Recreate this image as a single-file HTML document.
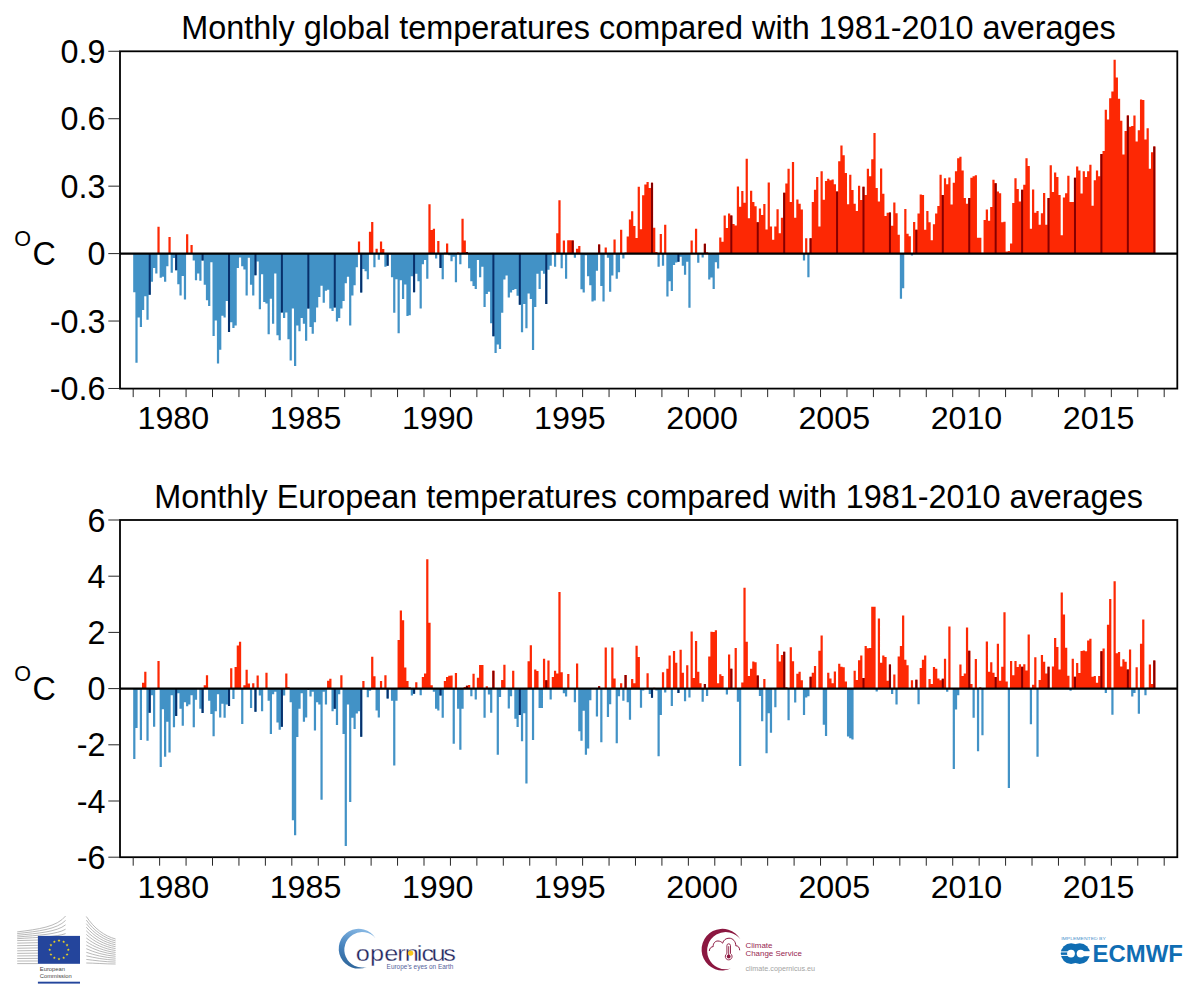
<!DOCTYPE html>
<html lang="en"><head><meta charset="utf-8"><title>Monthly temperature anomalies</title>
<style>
html,body{margin:0;padding:0;background:#fff}
svg{display:block}
text{font-family:'Liberation Sans', Arial, sans-serif}
</style></head>
<body>
<svg width="1200" height="987" viewBox="0 0 1200 987">
<rect width="1200" height="987" fill="#fff"/>
<text x="648.6" y="39.2" text-anchor="middle" font-size="32.4">Monthly global temperatures compared with 1981-2010 averages</text>
<path fill="#4292c6" d="M133.19 253.60h2.22v38.67h-2.22zM135.39 253.60h2.22v109.25h-2.22zM137.60 253.60h2.22v63.84h-2.22zM139.80 253.60h2.22v73.51h-2.22zM142.00 253.60h2.22v56.42h-2.22zM144.21 253.60h2.22v42.71h-2.22zM146.41 253.60h2.22v66.09h-2.22zM148.61 253.60h2.22v41.14h-2.22zM150.82 253.60h2.22v28.10h-2.22zM153.02 253.60h2.22v14.39h-2.22zM155.22 253.60h2.22v20.01h-2.22zM159.63 253.60h2.22v24.05h-2.22zM161.83 253.60h2.22v23.15h-2.22zM164.03 253.60h2.22v28.10h-2.22zM166.24 253.60h2.22v12.59h-2.22zM170.64 253.60h2.22v19.11h-2.22zM172.85 253.60h2.22v4.50h-2.22zM175.05 253.60h2.22v16.64h-2.22zM177.25 253.60h2.22v30.57h-2.22zM179.45 253.60h2.22v41.81h-2.22zM181.66 253.60h2.22v22.48h-2.22zM183.86 253.60h2.22v45.86h-2.22zM192.67 253.60h2.22v6.97h-2.22zM194.88 253.60h2.22v26.53h-2.22zM197.08 253.60h2.22v20.01h-2.22zM199.28 253.60h2.22v27.20h-2.22zM201.48 253.60h2.22v6.97h-2.22zM203.69 253.60h2.22v31.25h-2.22zM205.89 253.60h2.22v46.76h-2.22zM208.09 253.60h2.22v52.38h-2.22zM210.30 253.60h2.22v8.54h-2.22zM212.50 253.60h2.22v82.50h-2.22zM214.70 253.60h2.22v66.99h-2.22zM216.91 253.60h2.22v109.93h-2.22zM219.11 253.60h2.22v96.21h-2.22zM221.31 253.60h2.22v62.04h-2.22zM223.51 253.60h2.22v63.84h-2.22zM225.72 253.60h2.22v47.43h-2.22zM227.92 253.60h2.22v78.46h-2.22zM230.12 253.60h2.22v68.56h-2.22zM232.33 253.60h2.22v74.41h-2.22zM234.53 253.60h2.22v71.94h-2.22zM236.73 253.60h2.22v14.39h-2.22zM238.94 253.60h2.22v3.82h-2.22zM241.14 253.60h2.22v12.59h-2.22zM243.34 253.60h2.22v15.96h-2.22zM245.54 253.60h2.22v41.81h-2.22zM247.75 253.60h2.22v4.05h-2.22zM249.95 253.60h2.22v31.25h-2.22zM252.15 253.60h2.22v41.81h-2.22zM254.36 253.60h2.22v21.58h-2.22zM256.56 253.60h2.22v7.87h-2.22zM258.76 253.60h2.22v55.75h-2.22zM260.97 253.60h2.22v20.68h-2.22zM263.17 253.60h2.22v48.33h-2.22zM265.37 253.60h2.22v49.91h-2.22zM267.57 253.60h2.22v80.70h-2.22zM269.78 253.60h2.22v45.18h-2.22zM271.98 253.60h2.22v70.14h-2.22zM274.18 253.60h2.22v20.01h-2.22zM276.39 253.60h2.22v81.60h-2.22zM278.59 253.60h2.22v86.55h-2.22zM280.79 253.60h2.22v58.90h-2.22zM283.00 253.60h2.22v64.52h-2.22zM285.20 253.60h2.22v58.90h-2.22zM287.40 253.60h2.22v85.65h-2.22zM289.60 253.60h2.22v106.78h-2.22zM291.81 253.60h2.22v54.85h-2.22zM294.01 253.60h2.22v112.40h-2.22zM296.21 253.60h2.22v71.94h-2.22zM298.42 253.60h2.22v77.56h-2.22zM300.62 253.60h2.22v64.52h-2.22zM302.82 253.60h2.22v70.14h-2.22zM305.03 253.60h2.22v87.22h-2.22zM307.23 253.60h2.22v54.85h-2.22zM309.43 253.60h2.22v73.51h-2.22zM311.63 253.60h2.22v80.03h-2.22zM313.84 253.60h2.22v68.56h-2.22zM316.04 253.60h2.22v53.95h-2.22zM318.24 253.60h2.22v43.39h-2.22zM320.45 253.60h2.22v32.15h-2.22zM322.65 253.60h2.22v49.23h-2.22zM324.85 253.60h2.22v37.09h-2.22zM327.06 253.60h2.22v36.19h-2.22zM329.26 253.60h2.22v54.85h-2.22zM331.46 253.60h2.22v57.32h-2.22zM333.66 253.60h2.22v53.95h-2.22zM335.87 253.60h2.22v67.89h-2.22zM338.07 253.60h2.22v64.52h-2.22zM340.27 253.60h2.22v54.85h-2.22zM342.48 253.60h2.22v47.43h-2.22zM344.68 253.60h2.22v29.67h-2.22zM346.88 253.60h2.22v23.15h-2.22zM349.09 253.60h2.22v71.94h-2.22zM351.29 253.60h2.22v41.81h-2.22zM353.49 253.60h2.22v31.70h-2.22zM355.69 253.60h2.22v13.71h-2.22zM360.10 253.60h2.22v38.89h-2.22zM362.30 253.60h2.22v15.51h-2.22zM364.51 253.60h2.22v17.76h-2.22zM366.71 253.60h2.22v25.63h-2.22zM373.32 253.60h2.22v13.71h-2.22zM377.72 253.60h2.22v6.07h-2.22zM384.33 253.60h2.22v13.04h-2.22zM386.54 253.60h2.22v12.14h-2.22zM388.74 253.60h2.22v0.90h-2.22zM390.94 253.60h2.22v23.60h-2.22zM393.15 253.60h2.22v59.12h-2.22zM395.35 253.60h2.22v25.63h-2.22zM397.55 253.60h2.22v79.58h-2.22zM399.75 253.60h2.22v26.75h-2.22zM401.96 253.60h2.22v45.41h-2.22zM404.16 253.60h2.22v30.80h-2.22zM406.36 253.60h2.22v62.49h-2.22zM408.57 253.60h2.22v61.60h-2.22zM410.77 253.60h2.22v22.70h-2.22zM412.97 253.60h2.22v38.67h-2.22zM415.18 253.60h2.22v20.23h-2.22zM417.38 253.60h2.22v27.65h-2.22zM419.58 253.60h2.22v54.85h-2.22zM421.78 253.60h2.22v10.57h-2.22zM423.99 253.60h2.22v6.52h-2.22zM426.19 253.60h2.22v25.18h-2.22zM435.00 253.60h2.22v4.95h-2.22zM439.41 253.60h2.22v14.39h-2.22zM441.61 253.60h2.22v25.63h-2.22zM448.22 253.60h2.22v1.57h-2.22zM450.42 253.60h2.22v7.64h-2.22zM452.63 253.60h2.22v3.15h-2.22zM454.83 253.60h2.22v28.77h-2.22zM459.24 253.60h2.22v10.57h-2.22zM468.05 253.60h2.22v14.61h-2.22zM470.25 253.60h2.22v27.65h-2.22zM472.45 253.60h2.22v32.37h-2.22zM474.66 253.60h2.22v35.29h-2.22zM476.86 253.60h2.22v6.52h-2.22zM479.06 253.60h2.22v23.60h-2.22zM481.27 253.60h2.22v13.04h-2.22zM483.47 253.60h2.22v53.28h-2.22zM485.67 253.60h2.22v40.46h-2.22zM487.87 253.60h2.22v38.22h-2.22zM490.08 253.60h2.22v69.69h-2.22zM492.28 253.60h2.22v82.73h-2.22zM494.48 253.60h2.22v99.36h-2.22zM496.69 253.60h2.22v90.82h-2.22zM498.89 253.60h2.22v95.32h-2.22zM501.09 253.60h2.22v59.12h-2.22zM503.30 253.60h2.22v25.85h-2.22zM505.50 253.60h2.22v21.81h-2.22zM507.70 253.60h2.22v43.84h-2.22zM509.90 253.60h2.22v38.89h-2.22zM512.11 253.60h2.22v36.42h-2.22zM514.31 253.60h2.22v35.29h-2.22zM516.51 253.60h2.22v42.26h-2.22zM518.72 253.60h2.22v51.03h-2.22zM520.92 253.60h2.22v78.68h-2.22zM523.12 253.60h2.22v50.36h-2.22zM525.33 253.60h2.22v74.63h-2.22zM527.53 253.60h2.22v39.79h-2.22zM529.73 253.60h2.22v45.41h-2.22zM531.93 253.60h2.22v96.44h-2.22zM534.14 253.60h2.22v53.50h-2.22zM536.34 253.60h2.22v20.23h-2.22zM538.54 253.60h2.22v35.29h-2.22zM540.75 253.60h2.22v17.08h-2.22zM542.95 253.60h2.22v20.23h-2.22zM545.15 253.60h2.22v50.36h-2.22zM547.36 253.60h2.22v16.19h-2.22zM549.56 253.60h2.22v12.14h-2.22zM553.96 253.60h2.22v13.04h-2.22zM560.57 253.60h2.22v14.61h-2.22zM564.98 253.60h2.22v25.18h-2.22zM573.79 253.60h2.22v4.05h-2.22zM580.40 253.60h2.22v35.74h-2.22zM582.60 253.60h2.22v38.89h-2.22zM584.81 253.60h2.22v1.57h-2.22zM587.01 253.60h2.22v22.70h-2.22zM589.21 253.60h2.22v31.70h-2.22zM591.42 253.60h2.22v47.88h-2.22zM593.62 253.60h2.22v46.98h-2.22zM595.82 253.60h2.22v17.08h-2.22zM600.23 253.60h2.22v32.37h-2.22zM602.43 253.60h2.22v47.88h-2.22zM606.84 253.60h2.22v4.05h-2.22zM609.04 253.60h2.22v38.22h-2.22zM611.24 253.60h2.22v21.81h-2.22zM615.65 253.60h2.22v25.18h-2.22zM617.85 253.60h2.22v18.66h-2.22zM622.26 253.60h2.22v4.95h-2.22zM657.51 253.60h2.22v13.04h-2.22zM661.91 253.60h2.22v12.14h-2.22zM666.32 253.60h2.22v42.94h-2.22zM668.52 253.60h2.22v27.65h-2.22zM670.72 253.60h2.22v37.32h-2.22zM672.93 253.60h2.22v11.46h-2.22zM675.13 253.60h2.22v8.99h-2.22zM677.33 253.60h2.22v8.09h-2.22zM679.54 253.60h2.22v3.15h-2.22zM681.74 253.60h2.22v12.14h-2.22zM683.94 253.60h2.22v21.13h-2.22zM686.14 253.60h2.22v8.09h-2.22zM688.35 253.60h2.22v54.18h-2.22zM697.16 253.60h2.22v9.22h-2.22zM701.57 253.60h2.22v3.82h-2.22zM708.17 253.60h2.22v25.85h-2.22zM710.38 253.60h2.22v23.83h-2.22zM712.58 253.60h2.22v35.29h-2.22zM714.78 253.60h2.22v8.54h-2.22zM716.99 253.60h2.22v14.84h-2.22zM802.90 253.60h2.22v6.97h-2.22zM807.31 253.60h2.22v23.60h-2.22zM899.84 253.60h2.22v45.18h-2.22zM902.04 253.60h2.22v34.62h-2.22zM910.85 253.60h2.22v2.02h-2.22z"/>
<path fill="#fd2804" d="M157.42 226.85h2.22v26.75h-2.22zM168.44 236.96h2.22v16.64h-2.22zM186.06 234.27h2.22v19.33h-2.22zM190.47 245.06h2.22v8.54h-2.22zM357.90 241.46h2.22v12.14h-2.22zM368.91 231.79h2.22v21.81h-2.22zM371.12 221.90h2.22v31.70h-2.22zM375.52 248.65h2.22v4.95h-2.22zM379.93 241.46h2.22v12.14h-2.22zM382.13 249.10h2.22v4.50h-2.22zM428.39 204.14h2.22v49.46h-2.22zM430.60 230.00h2.22v23.60h-2.22zM432.80 228.87h2.22v24.73h-2.22zM437.21 241.01h2.22v12.59h-2.22zM443.81 252.70h2.22v0.90h-2.22zM446.02 243.48h2.22v10.12h-2.22zM457.03 252.48h2.22v1.12h-2.22zM461.44 218.76h2.22v34.84h-2.22zM463.64 240.56h2.22v13.04h-2.22zM465.84 252.03h2.22v1.57h-2.22zM551.76 252.48h2.22v1.12h-2.22zM556.17 233.37h2.22v20.23h-2.22zM558.37 200.32h2.22v53.28h-2.22zM562.78 240.56h2.22v13.04h-2.22zM567.18 240.34h2.22v13.26h-2.22zM569.39 240.34h2.22v13.26h-2.22zM571.59 240.56h2.22v13.04h-2.22zM575.99 248.65h2.22v4.95h-2.22zM578.20 245.96h2.22v7.64h-2.22zM598.02 244.61h2.22v8.99h-2.22zM604.63 247.53h2.22v6.07h-2.22zM613.45 239.44h2.22v14.16h-2.22zM620.05 229.77h2.22v23.83h-2.22zM624.46 252.70h2.22v0.90h-2.22zM626.66 236.52h2.22v17.08h-2.22zM628.87 219.43h2.22v34.17h-2.22zM631.07 211.34h2.22v42.26h-2.22zM633.27 225.95h2.22v27.65h-2.22zM635.48 238.09h2.22v15.51h-2.22zM637.68 186.83h2.22v66.77h-2.22zM639.88 229.32h2.22v24.28h-2.22zM642.08 195.15h2.22v58.45h-2.22zM644.29 184.59h2.22v69.01h-2.22zM646.49 181.89h2.22v71.71h-2.22zM648.69 187.96h2.22v65.64h-2.22zM650.90 182.79h2.22v70.81h-2.22zM653.10 227.75h2.22v25.85h-2.22zM655.30 252.03h2.22v1.57h-2.22zM659.71 234.04h2.22v19.56h-2.22zM664.11 224.83h2.22v28.77h-2.22zM690.55 240.56h2.22v13.04h-2.22zM692.75 253.15h2.22v0.45h-2.22zM694.96 228.87h2.22v24.73h-2.22zM703.77 243.71h2.22v9.89h-2.22zM705.97 252.25h2.22v1.35h-2.22zM719.19 237.41h2.22v16.19h-2.22zM721.39 241.69h2.22v11.91h-2.22zM723.60 215.38h2.22v38.22h-2.22zM725.80 227.97h2.22v25.63h-2.22zM728.00 213.59h2.22v40.01h-2.22zM730.20 215.38h2.22v38.22h-2.22zM732.41 223.93h2.22v29.67h-2.22zM734.61 225.50h2.22v28.10h-2.22zM736.81 186.61h2.22v66.99h-2.22zM739.02 206.84h2.22v46.76h-2.22zM741.22 191.11h2.22v62.49h-2.22zM743.42 202.80h2.22v50.80h-2.22zM745.63 158.73h2.22v94.87h-2.22zM747.83 218.31h2.22v35.29h-2.22zM750.03 190.66h2.22v62.94h-2.22zM752.23 202.12h2.22v51.48h-2.22zM754.44 206.17h2.22v47.43h-2.22zM756.64 222.35h2.22v31.25h-2.22zM758.84 208.42h2.22v45.18h-2.22zM761.05 214.93h2.22v38.67h-2.22zM763.25 203.92h2.22v49.68h-2.22zM765.45 229.55h2.22v24.05h-2.22zM767.66 182.56h2.22v71.04h-2.22zM769.86 226.40h2.22v27.20h-2.22zM772.06 239.66h2.22v13.94h-2.22zM774.26 226.40h2.22v27.20h-2.22zM776.47 209.31h2.22v44.29h-2.22zM778.67 233.14h2.22v20.46h-2.22zM780.87 217.86h2.22v35.74h-2.22zM783.08 192.68h2.22v60.92h-2.22zM785.28 183.46h2.22v70.14h-2.22zM787.48 168.85h2.22v84.75h-2.22zM789.69 202.12h2.22v51.48h-2.22zM791.89 161.88h2.22v91.72h-2.22zM794.09 217.63h2.22v35.97h-2.22zM796.29 199.42h2.22v54.18h-2.22zM798.50 203.69h2.22v49.91h-2.22zM800.70 209.54h2.22v44.06h-2.22zM805.11 238.31h2.22v15.29h-2.22zM809.51 238.31h2.22v15.29h-2.22zM811.72 202.12h2.22v51.48h-2.22zM813.92 189.76h2.22v63.84h-2.22zM816.12 176.94h2.22v76.66h-2.22zM818.32 226.40h2.22v27.20h-2.22zM820.53 171.32h2.22v82.28h-2.22zM822.73 199.65h2.22v53.95h-2.22zM824.93 180.99h2.22v72.61h-2.22zM827.14 178.74h2.22v74.86h-2.22zM829.34 180.32h2.22v73.28h-2.22zM831.54 179.42h2.22v74.18h-2.22zM833.75 184.36h2.22v69.24h-2.22zM835.95 191.56h2.22v62.04h-2.22zM838.15 161.21h2.22v92.39h-2.22zM840.35 145.47h2.22v108.13h-2.22zM842.56 155.14h2.22v98.46h-2.22zM844.76 172.90h2.22v80.70h-2.22zM846.96 204.37h2.22v49.23h-2.22zM849.17 174.70h2.22v78.90h-2.22zM851.37 189.98h2.22v63.62h-2.22zM853.57 203.69h2.22v49.91h-2.22zM855.78 211.11h2.22v42.49h-2.22zM857.98 185.71h2.22v67.89h-2.22zM860.18 200.10h2.22v53.50h-2.22zM862.38 186.83h2.22v66.77h-2.22zM864.59 194.93h2.22v58.67h-2.22zM866.79 168.63h2.22v84.97h-2.22zM868.99 176.27h2.22v77.33h-2.22zM871.20 159.18h2.22v94.42h-2.22zM873.40 132.88h2.22v120.72h-2.22zM875.60 187.96h2.22v65.64h-2.22zM877.81 201.45h2.22v52.15h-2.22zM880.01 168.40h2.22v85.20h-2.22zM882.21 193.80h2.22v59.80h-2.22zM884.41 216.06h2.22v37.54h-2.22zM886.62 212.69h2.22v40.91h-2.22zM888.82 212.46h2.22v41.14h-2.22zM891.02 225.72h2.22v27.88h-2.22zM893.23 202.57h2.22v51.03h-2.22zM895.43 213.14h2.22v40.46h-2.22zM897.63 234.72h2.22v18.88h-2.22zM904.24 209.09h2.22v44.51h-2.22zM906.44 233.82h2.22v19.78h-2.22zM908.65 236.29h2.22v17.31h-2.22zM913.05 221.90h2.22v31.70h-2.22zM915.26 229.77h2.22v23.83h-2.22zM917.46 213.59h2.22v40.01h-2.22zM919.66 194.48h2.22v59.12h-2.22zM921.87 194.93h2.22v58.67h-2.22zM924.07 229.77h2.22v23.83h-2.22zM926.27 211.11h2.22v42.49h-2.22zM928.47 222.13h2.22v31.47h-2.22zM930.68 240.34h2.22v13.26h-2.22zM932.88 224.15h2.22v29.45h-2.22zM935.08 213.59h2.22v40.01h-2.22zM937.29 205.94h2.22v47.66h-2.22zM939.49 174.70h2.22v78.90h-2.22zM941.69 194.93h2.22v58.67h-2.22zM943.90 178.29h2.22v75.31h-2.22zM946.10 184.36h2.22v69.24h-2.22zM948.30 177.62h2.22v75.98h-2.22zM950.50 204.59h2.22v49.01h-2.22zM952.71 182.79h2.22v70.81h-2.22zM954.91 171.32h2.22v82.28h-2.22zM957.11 158.28h2.22v95.32h-2.22zM959.32 156.71h2.22v96.89h-2.22zM961.52 170.42h2.22v83.18h-2.22zM963.72 198.07h2.22v55.53h-2.22zM965.93 203.69h2.22v49.91h-2.22zM968.13 198.07h2.22v55.53h-2.22zM970.33 177.84h2.22v75.76h-2.22zM972.53 176.27h2.22v77.33h-2.22zM974.74 175.37h2.22v78.23h-2.22zM976.94 237.86h2.22v15.74h-2.22zM979.14 237.86h2.22v15.74h-2.22zM981.35 252.70h2.22v0.90h-2.22zM983.55 220.10h2.22v33.50h-2.22zM985.75 209.54h2.22v44.06h-2.22zM987.96 220.78h2.22v32.82h-2.22zM990.16 207.07h2.22v46.53h-2.22zM992.36 179.87h2.22v73.73h-2.22zM994.56 183.24h2.22v70.36h-2.22zM996.77 191.56h2.22v62.04h-2.22zM998.97 193.35h2.22v60.25h-2.22zM1001.17 222.35h2.22v31.25h-2.22zM1003.38 221.68h2.22v31.92h-2.22zM1005.58 251.58h2.22v2.02h-2.22zM1007.78 250.90h2.22v2.70h-2.22zM1009.99 243.48h2.22v10.12h-2.22zM1012.19 203.02h2.22v50.58h-2.22zM1014.39 178.29h2.22v75.31h-2.22zM1016.59 189.08h2.22v64.52h-2.22zM1018.80 201.45h2.22v52.15h-2.22zM1021.00 189.76h2.22v63.84h-2.22zM1023.20 184.81h2.22v68.79h-2.22zM1025.41 158.28h2.22v95.32h-2.22zM1027.61 165.93h2.22v87.67h-2.22zM1029.81 228.87h2.22v24.73h-2.22zM1032.02 189.53h2.22v64.07h-2.22zM1034.22 212.69h2.22v40.91h-2.22zM1036.42 211.11h2.22v42.49h-2.22zM1038.62 224.83h2.22v28.77h-2.22zM1040.83 213.14h2.22v40.46h-2.22zM1043.03 192.90h2.22v60.70h-2.22zM1045.23 224.83h2.22v28.77h-2.22zM1047.44 198.07h2.22v55.53h-2.22zM1049.64 165.25h2.22v88.35h-2.22zM1051.84 192.00h2.22v61.60h-2.22zM1054.05 172.45h2.22v81.15h-2.22zM1056.25 176.94h2.22v76.66h-2.22zM1058.45 194.93h2.22v58.67h-2.22zM1060.65 235.17h2.22v18.43h-2.22zM1062.86 197.40h2.22v56.20h-2.22zM1065.06 193.35h2.22v60.25h-2.22zM1067.26 175.82h2.22v77.78h-2.22zM1069.47 202.12h2.22v51.48h-2.22zM1071.67 202.12h2.22v51.48h-2.22zM1073.87 177.84h2.22v75.76h-2.22zM1076.08 166.38h2.22v87.22h-2.22zM1078.28 170.42h2.22v83.18h-2.22zM1080.48 193.58h2.22v60.02h-2.22zM1082.68 171.32h2.22v82.28h-2.22zM1084.89 176.94h2.22v76.66h-2.22zM1087.09 171.32h2.22v82.28h-2.22zM1089.29 164.80h2.22v88.80h-2.22zM1091.50 205.72h2.22v47.88h-2.22zM1093.70 180.32h2.22v73.28h-2.22zM1095.90 170.42h2.22v83.18h-2.22zM1098.11 176.27h2.22v77.33h-2.22zM1100.31 154.01h2.22v99.59h-2.22zM1102.51 151.09h2.22v102.51h-2.22zM1104.71 109.73h2.22v143.87h-2.22zM1106.92 119.39h2.22v134.21h-2.22zM1109.12 98.26h2.22v155.34h-2.22zM1111.32 91.52h2.22v162.08h-2.22zM1113.53 59.82h2.22v193.78h-2.22zM1115.73 77.58h2.22v176.02h-2.22zM1117.93 98.71h2.22v154.89h-2.22zM1120.14 120.74h2.22v132.86h-2.22zM1122.34 154.46h2.22v99.14h-2.22zM1124.54 131.08h2.22v122.52h-2.22zM1126.74 115.57h2.22v138.03h-2.22zM1128.95 126.81h2.22v126.79h-2.22zM1131.15 125.91h2.22v127.69h-2.22zM1133.35 115.57h2.22v138.03h-2.22zM1135.56 141.42h2.22v112.18h-2.22zM1137.76 130.18h2.22v123.42h-2.22zM1139.96 99.39h2.22v154.21h-2.22zM1142.17 100.06h2.22v153.54h-2.22zM1144.37 139.40h2.22v114.20h-2.22zM1146.57 128.16h2.22v125.44h-2.22zM1148.77 168.85h2.22v84.75h-2.22zM1150.98 152.22h2.22v101.38h-2.22zM1153.18 146.60h2.22v107.00h-2.22z"/>
<path fill="#08306b" d="M148.72 253.60h2.0v41.14h-2.0zM175.16 253.60h2.0v16.64h-2.0zM201.59 253.60h2.0v6.97h-2.0zM228.03 253.60h2.0v78.46h-2.0zM254.47 253.60h2.0v21.58h-2.0zM280.90 253.60h2.0v58.90h-2.0zM307.34 253.60h2.0v54.85h-2.0zM333.77 253.60h2.0v53.95h-2.0zM360.21 253.60h2.0v38.89h-2.0zM386.65 253.60h2.0v12.14h-2.0zM413.08 253.60h2.0v38.67h-2.0zM439.52 253.60h2.0v14.39h-2.0zM492.39 253.60h2.0v82.73h-2.0zM518.83 253.60h2.0v51.03h-2.0zM545.26 253.60h2.0v50.36h-2.0zM677.44 253.60h2.0v8.09h-2.0z"/>
<path fill="#860000" d="M465.95 252.03h2.0v1.57h-2.0zM571.70 240.56h2.0v13.04h-2.0zM598.13 244.61h2.0v8.99h-2.0zM624.57 252.70h2.0v0.90h-2.0zM651.01 182.79h2.0v70.81h-2.0zM703.88 243.71h2.0v9.89h-2.0zM730.31 215.38h2.0v38.22h-2.0zM756.75 222.35h2.0v31.25h-2.0zM783.19 192.68h2.0v60.92h-2.0zM809.62 238.31h2.0v15.29h-2.0zM836.06 191.56h2.0v62.04h-2.0zM862.49 186.83h2.0v66.77h-2.0zM888.93 212.46h2.0v41.14h-2.0zM915.37 229.77h2.0v23.83h-2.0zM941.80 194.93h2.0v58.67h-2.0zM968.24 198.07h2.0v55.53h-2.0zM994.67 183.24h2.0v70.36h-2.0zM1021.11 189.76h2.0v63.84h-2.0zM1047.55 198.07h2.0v55.53h-2.0zM1073.98 177.84h2.0v75.76h-2.0zM1100.42 154.01h2.0v99.59h-2.0zM1126.85 115.57h2.0v138.03h-2.0zM1153.29 146.60h2.0v107.00h-2.0z"/>
<line x1="120.0" x2="1177.3" y1="253.6" y2="253.6" stroke="#000" stroke-width="2.1"/>
<rect x="120.0" y="51.3" width="1057.3" height="337.3" fill="none" stroke="#000" stroke-width="1.8"/>
<line x1="108.3" x2="120.0" y1="51.28" y2="51.28" stroke="#1a1a1a" stroke-width="0.95"/>
<text x="105.4" y="62.83" text-anchor="end" font-size="32.3">0.9</text>
<line x1="108.3" x2="120.0" y1="118.72" y2="118.72" stroke="#1a1a1a" stroke-width="0.95"/>
<text x="105.4" y="130.27" text-anchor="end" font-size="32.3">0.6</text>
<line x1="108.3" x2="120.0" y1="186.16" y2="186.16" stroke="#1a1a1a" stroke-width="0.95"/>
<text x="105.4" y="197.71" text-anchor="end" font-size="32.3">0.3</text>
<line x1="108.3" x2="120.0" y1="253.60" y2="253.60" stroke="#1a1a1a" stroke-width="0.95"/>
<text x="105.4" y="265.15" text-anchor="end" font-size="32.3">0</text>
<line x1="108.3" x2="120.0" y1="321.04" y2="321.04" stroke="#1a1a1a" stroke-width="0.95"/>
<text x="105.4" y="332.59" text-anchor="end" font-size="32.3">-0.3</text>
<line x1="108.3" x2="120.0" y1="388.48" y2="388.48" stroke="#1a1a1a" stroke-width="0.95"/>
<text x="105.4" y="400.03" text-anchor="end" font-size="32.3">-0.6</text>
<line x1="133.20" x2="133.20" y1="388.6" y2="397.1" stroke="#1a1a1a" stroke-width="0.95"/>
<line x1="159.64" x2="159.64" y1="388.6" y2="397.1" stroke="#1a1a1a" stroke-width="0.95"/>
<line x1="186.07" x2="186.07" y1="388.6" y2="397.1" stroke="#1a1a1a" stroke-width="0.95"/>
<line x1="212.51" x2="212.51" y1="388.6" y2="397.1" stroke="#1a1a1a" stroke-width="0.95"/>
<line x1="238.94" x2="238.94" y1="388.6" y2="397.1" stroke="#1a1a1a" stroke-width="0.95"/>
<line x1="265.38" x2="265.38" y1="388.6" y2="397.1" stroke="#1a1a1a" stroke-width="0.95"/>
<line x1="291.82" x2="291.82" y1="388.6" y2="397.1" stroke="#1a1a1a" stroke-width="0.95"/>
<line x1="318.25" x2="318.25" y1="388.6" y2="397.1" stroke="#1a1a1a" stroke-width="0.95"/>
<line x1="344.69" x2="344.69" y1="388.6" y2="397.1" stroke="#1a1a1a" stroke-width="0.95"/>
<line x1="371.12" x2="371.12" y1="388.6" y2="397.1" stroke="#1a1a1a" stroke-width="0.95"/>
<line x1="397.56" x2="397.56" y1="388.6" y2="397.1" stroke="#1a1a1a" stroke-width="0.95"/>
<line x1="424.00" x2="424.00" y1="388.6" y2="397.1" stroke="#1a1a1a" stroke-width="0.95"/>
<line x1="450.43" x2="450.43" y1="388.6" y2="397.1" stroke="#1a1a1a" stroke-width="0.95"/>
<line x1="476.87" x2="476.87" y1="388.6" y2="397.1" stroke="#1a1a1a" stroke-width="0.95"/>
<line x1="503.30" x2="503.30" y1="388.6" y2="397.1" stroke="#1a1a1a" stroke-width="0.95"/>
<line x1="529.74" x2="529.74" y1="388.6" y2="397.1" stroke="#1a1a1a" stroke-width="0.95"/>
<line x1="556.18" x2="556.18" y1="388.6" y2="397.1" stroke="#1a1a1a" stroke-width="0.95"/>
<line x1="582.61" x2="582.61" y1="388.6" y2="397.1" stroke="#1a1a1a" stroke-width="0.95"/>
<line x1="609.05" x2="609.05" y1="388.6" y2="397.1" stroke="#1a1a1a" stroke-width="0.95"/>
<line x1="635.48" x2="635.48" y1="388.6" y2="397.1" stroke="#1a1a1a" stroke-width="0.95"/>
<line x1="661.92" x2="661.92" y1="388.6" y2="397.1" stroke="#1a1a1a" stroke-width="0.95"/>
<line x1="688.36" x2="688.36" y1="388.6" y2="397.1" stroke="#1a1a1a" stroke-width="0.95"/>
<line x1="714.79" x2="714.79" y1="388.6" y2="397.1" stroke="#1a1a1a" stroke-width="0.95"/>
<line x1="741.23" x2="741.23" y1="388.6" y2="397.1" stroke="#1a1a1a" stroke-width="0.95"/>
<line x1="767.66" x2="767.66" y1="388.6" y2="397.1" stroke="#1a1a1a" stroke-width="0.95"/>
<line x1="794.10" x2="794.10" y1="388.6" y2="397.1" stroke="#1a1a1a" stroke-width="0.95"/>
<line x1="820.54" x2="820.54" y1="388.6" y2="397.1" stroke="#1a1a1a" stroke-width="0.95"/>
<line x1="846.97" x2="846.97" y1="388.6" y2="397.1" stroke="#1a1a1a" stroke-width="0.95"/>
<line x1="873.41" x2="873.41" y1="388.6" y2="397.1" stroke="#1a1a1a" stroke-width="0.95"/>
<line x1="899.84" x2="899.84" y1="388.6" y2="397.1" stroke="#1a1a1a" stroke-width="0.95"/>
<line x1="926.28" x2="926.28" y1="388.6" y2="397.1" stroke="#1a1a1a" stroke-width="0.95"/>
<line x1="952.72" x2="952.72" y1="388.6" y2="397.1" stroke="#1a1a1a" stroke-width="0.95"/>
<line x1="979.15" x2="979.15" y1="388.6" y2="397.1" stroke="#1a1a1a" stroke-width="0.95"/>
<line x1="1005.59" x2="1005.59" y1="388.6" y2="397.1" stroke="#1a1a1a" stroke-width="0.95"/>
<line x1="1032.02" x2="1032.02" y1="388.6" y2="397.1" stroke="#1a1a1a" stroke-width="0.95"/>
<line x1="1058.46" x2="1058.46" y1="388.6" y2="397.1" stroke="#1a1a1a" stroke-width="0.95"/>
<line x1="1084.90" x2="1084.90" y1="388.6" y2="397.1" stroke="#1a1a1a" stroke-width="0.95"/>
<line x1="1111.33" x2="1111.33" y1="388.6" y2="397.1" stroke="#1a1a1a" stroke-width="0.95"/>
<line x1="1137.77" x2="1137.77" y1="388.6" y2="397.1" stroke="#1a1a1a" stroke-width="0.95"/>
<line x1="1164.20" x2="1164.20" y1="388.6" y2="397.1" stroke="#1a1a1a" stroke-width="0.95"/>
<text x="173.35" y="429.0" text-anchor="middle" font-size="32.2">1980</text>
<text x="305.53" y="429.0" text-anchor="middle" font-size="32.2">1985</text>
<text x="437.71" y="429.0" text-anchor="middle" font-size="32.2">1990</text>
<text x="569.89" y="429.0" text-anchor="middle" font-size="32.2">1995</text>
<text x="702.07" y="429.0" text-anchor="middle" font-size="32.2">2000</text>
<text x="834.25" y="429.0" text-anchor="middle" font-size="32.2">2005</text>
<text x="966.43" y="429.0" text-anchor="middle" font-size="32.2">2010</text>
<text x="1098.61" y="429.0" text-anchor="middle" font-size="32.2">2015</text>
<text x="14.2" y="246.1" font-size="21.6">O</text>
<text x="32.5" y="265.0" font-size="32.3">C</text>
<text x="648.6" y="507.5" text-anchor="middle" font-size="32.4">Monthly European temperatures compared with 1981-2010 averages</text>
<path fill="#4292c6" d="M133.19 688.60h2.22v70.28h-2.22zM135.39 688.60h2.22v39.48h-2.22zM137.60 688.60h2.22v1.12h-2.22zM139.80 688.60h2.22v51.52h-2.22zM146.41 688.60h2.22v52.08h-2.22zM148.61 688.60h2.22v24.08h-2.22zM150.82 688.60h2.22v6.72h-2.22zM153.02 688.60h2.22v38.08h-2.22zM155.22 688.60h2.22v1.40h-2.22zM159.63 688.60h2.22v78.40h-2.22zM161.83 688.60h2.22v20.72h-2.22zM164.03 688.60h2.22v68.04h-2.22zM166.24 688.60h2.22v33.04h-2.22zM168.44 688.60h2.22v63.84h-2.22zM170.64 688.60h2.22v6.72h-2.22zM172.85 688.60h2.22v38.64h-2.22zM175.05 688.60h2.22v27.44h-2.22zM177.25 688.60h2.22v4.76h-2.22zM179.45 688.60h2.22v20.16h-2.22zM181.66 688.60h2.22v37.24h-2.22zM183.86 688.60h2.22v13.72h-2.22zM186.06 688.60h2.22v17.64h-2.22zM188.27 688.60h2.22v15.96h-2.22zM190.47 688.60h2.22v6.72h-2.22zM192.67 688.60h2.22v38.64h-2.22zM194.88 688.60h2.22v11.20h-2.22zM197.08 688.60h2.22v0.56h-2.22zM199.28 688.60h2.22v20.16h-2.22zM201.48 688.60h2.22v24.36h-2.22zM208.09 688.60h2.22v12.04h-2.22zM210.30 688.60h2.22v25.48h-2.22zM212.50 688.60h2.22v47.60h-2.22zM214.70 688.60h2.22v22.68h-2.22zM216.91 688.60h2.22v5.60h-2.22zM219.11 688.60h2.22v28.84h-2.22zM221.31 688.60h2.22v15.12h-2.22zM223.51 688.60h2.22v29.12h-2.22zM225.72 688.60h2.22v15.96h-2.22zM227.92 688.60h2.22v17.36h-2.22zM232.33 688.60h2.22v10.36h-2.22zM241.14 688.60h2.22v35.28h-2.22zM249.95 688.60h2.22v19.32h-2.22zM254.36 688.60h2.22v23.24h-2.22zM258.76 688.60h2.22v7.00h-2.22zM260.97 688.60h2.22v22.68h-2.22zM263.17 688.60h2.22v0.56h-2.22zM267.57 688.60h2.22v12.04h-2.22zM269.78 688.60h2.22v45.36h-2.22zM271.98 688.60h2.22v5.60h-2.22zM274.18 688.60h2.22v3.08h-2.22zM276.39 688.60h2.22v33.88h-2.22zM278.59 688.60h2.22v41.16h-2.22zM280.79 688.60h2.22v38.08h-2.22zM283.00 688.60h2.22v7.00h-2.22zM289.60 688.60h2.22v13.72h-2.22zM291.81 688.60h2.22v131.60h-2.22zM294.01 688.60h2.22v146.72h-2.22zM296.21 688.60h2.22v48.44h-2.22zM298.42 688.60h2.22v20.16h-2.22zM300.62 688.60h2.22v4.76h-2.22zM302.82 688.60h2.22v33.04h-2.22zM305.03 688.60h2.22v28.84h-2.22zM307.23 688.60h2.22v1.12h-2.22zM309.43 688.60h2.22v7.84h-2.22zM311.63 688.60h2.22v3.08h-2.22zM313.84 688.60h2.22v42.00h-2.22zM316.04 688.60h2.22v13.72h-2.22zM318.24 688.60h2.22v15.96h-2.22zM320.45 688.60h2.22v111.16h-2.22zM322.65 688.60h2.22v3.08h-2.22zM324.85 688.60h2.22v15.96h-2.22zM331.46 688.60h2.22v22.68h-2.22zM333.66 688.60h2.22v20.16h-2.22zM335.87 688.60h2.22v36.40h-2.22zM338.07 688.60h2.22v5.60h-2.22zM342.48 688.60h2.22v45.36h-2.22zM344.68 688.60h2.22v157.36h-2.22zM346.88 688.60h2.22v15.96h-2.22zM349.09 688.60h2.22v113.40h-2.22zM351.29 688.60h2.22v29.12h-2.22zM353.49 688.60h2.22v40.32h-2.22zM355.69 688.60h2.22v24.92h-2.22zM357.90 688.60h2.22v22.68h-2.22zM360.10 688.60h2.22v48.16h-2.22zM364.51 688.60h2.22v0.56h-2.22zM366.71 688.60h2.22v8.68h-2.22zM368.91 688.60h2.22v2.24h-2.22zM375.52 688.60h2.22v21.84h-2.22zM377.72 688.60h2.22v28.84h-2.22zM386.54 688.60h2.22v9.80h-2.22zM390.94 688.60h2.22v12.04h-2.22zM393.15 688.60h2.22v77.00h-2.22zM395.35 688.60h2.22v12.04h-2.22zM410.77 688.60h2.22v7.00h-2.22zM412.97 688.60h2.22v5.04h-2.22zM419.58 688.60h2.22v6.72h-2.22zM432.80 688.60h2.22v3.08h-2.22zM435.00 688.60h2.22v20.16h-2.22zM437.21 688.60h2.22v21.84h-2.22zM439.41 688.60h2.22v7.00h-2.22zM441.61 688.60h2.22v29.12h-2.22zM452.63 688.60h2.22v55.16h-2.22zM457.03 688.60h2.22v20.16h-2.22zM459.24 688.60h2.22v61.04h-2.22zM461.44 688.60h2.22v20.16h-2.22zM470.25 688.60h2.22v7.56h-2.22zM474.66 688.60h2.22v10.92h-2.22zM483.47 688.60h2.22v29.12h-2.22zM487.87 688.60h2.22v5.88h-2.22zM490.08 688.60h2.22v24.08h-2.22zM496.69 688.60h2.22v66.08h-2.22zM498.89 688.60h2.22v8.40h-2.22zM507.70 688.60h2.22v19.88h-2.22zM509.90 688.60h2.22v7.56h-2.22zM514.31 688.60h2.22v30.24h-2.22zM516.51 688.60h2.22v38.36h-2.22zM518.72 688.60h2.22v26.32h-2.22zM520.92 688.60h2.22v52.64h-2.22zM523.12 688.60h2.22v24.64h-2.22zM525.33 688.60h2.22v94.92h-2.22zM531.93 688.60h2.22v51.52h-2.22zM538.54 688.60h2.22v19.32h-2.22zM540.75 688.60h2.22v19.32h-2.22zM549.56 688.60h2.22v10.92h-2.22zM562.78 688.60h2.22v4.76h-2.22zM564.98 688.60h2.22v7.84h-2.22zM573.79 688.60h2.22v13.72h-2.22zM578.20 688.60h2.22v42.56h-2.22zM580.40 688.60h2.22v52.08h-2.22zM582.60 688.60h2.22v22.12h-2.22zM584.81 688.60h2.22v66.08h-2.22zM587.01 688.60h2.22v59.92h-2.22zM589.21 688.60h2.22v11.76h-2.22zM595.82 688.60h2.22v28.00h-2.22zM600.23 688.60h2.22v53.76h-2.22zM606.84 688.60h2.22v28.28h-2.22zM609.04 688.60h2.22v15.68h-2.22zM615.65 688.60h2.22v54.60h-2.22zM617.85 688.60h2.22v7.56h-2.22zM622.26 688.60h2.22v12.04h-2.22zM626.66 688.60h2.22v13.72h-2.22zM628.87 688.60h2.22v31.08h-2.22zM639.88 688.60h2.22v19.04h-2.22zM642.08 688.60h2.22v1.96h-2.22zM648.69 688.60h2.22v5.32h-2.22zM650.90 688.60h2.22v9.24h-2.22zM655.30 688.60h2.22v1.96h-2.22zM657.51 688.60h2.22v67.76h-2.22zM659.71 688.60h2.22v26.32h-2.22zM664.11 688.60h2.22v3.92h-2.22zM670.72 688.60h2.22v17.36h-2.22zM677.33 688.60h2.22v4.48h-2.22zM683.94 688.60h2.22v12.60h-2.22zM688.35 688.60h2.22v8.96h-2.22zM701.57 688.60h2.22v13.16h-2.22zM705.97 688.60h2.22v7.28h-2.22zM725.80 688.60h2.22v5.88h-2.22zM736.81 688.60h2.22v13.16h-2.22zM739.02 688.60h2.22v77.28h-2.22zM758.84 688.60h2.22v7.28h-2.22zM761.05 688.60h2.22v32.76h-2.22zM765.45 688.60h2.22v64.68h-2.22zM767.66 688.60h2.22v24.64h-2.22zM769.86 688.60h2.22v44.24h-2.22zM774.26 688.60h2.22v18.76h-2.22zM787.48 688.60h2.22v31.64h-2.22zM794.09 688.60h2.22v14.00h-2.22zM802.90 688.60h2.22v26.32h-2.22zM805.11 688.60h2.22v8.96h-2.22zM807.31 688.60h2.22v7.56h-2.22zM822.73 688.60h2.22v36.12h-2.22zM824.93 688.60h2.22v47.32h-2.22zM846.96 688.60h2.22v47.88h-2.22zM849.17 688.60h2.22v49.56h-2.22zM851.37 688.60h2.22v50.96h-2.22zM875.60 688.60h2.22v2.80h-2.22zM891.02 688.60h2.22v5.32h-2.22zM895.43 688.60h2.22v15.96h-2.22zM917.46 688.60h2.22v15.68h-2.22zM946.10 688.60h2.22v3.08h-2.22zM952.71 688.60h2.22v80.36h-2.22zM954.91 688.60h2.22v21.00h-2.22zM957.11 688.60h2.22v6.72h-2.22zM972.53 688.60h2.22v29.12h-2.22zM976.94 688.60h2.22v62.72h-2.22zM981.35 688.60h2.22v46.76h-2.22zM1007.78 688.60h2.22v99.40h-2.22zM1029.81 688.60h2.22v35.56h-2.22zM1036.42 688.60h2.22v68.04h-2.22zM1069.47 688.60h2.22v2.24h-2.22zM1104.71 688.60h2.22v4.48h-2.22zM1111.32 688.60h2.22v26.04h-2.22zM1131.15 688.60h2.22v7.84h-2.22zM1133.35 688.60h2.22v4.48h-2.22zM1137.76 688.60h2.22v25.20h-2.22zM1144.37 688.60h2.22v6.72h-2.22z"/>
<path fill="#fd2804" d="M142.00 682.72h2.22v5.88h-2.22zM144.21 671.80h2.22v16.80h-2.22zM157.42 660.88h2.22v27.72h-2.22zM203.69 685.24h2.22v3.36h-2.22zM205.89 675.16h2.22v13.44h-2.22zM230.12 668.16h2.22v20.44h-2.22zM234.53 667.04h2.22v21.56h-2.22zM236.73 645.48h2.22v43.12h-2.22zM238.94 641.84h2.22v46.76h-2.22zM243.34 685.24h2.22v3.36h-2.22zM245.54 669.84h2.22v18.76h-2.22zM247.75 683.56h2.22v5.04h-2.22zM252.15 683.28h2.22v5.32h-2.22zM256.56 675.44h2.22v13.16h-2.22zM265.37 672.64h2.22v15.96h-2.22zM285.20 673.48h2.22v15.12h-2.22zM287.40 687.20h2.22v1.40h-2.22zM327.06 680.76h2.22v7.84h-2.22zM329.26 678.80h2.22v9.80h-2.22zM340.27 675.16h2.22v13.44h-2.22zM362.30 681.04h2.22v7.56h-2.22zM371.12 656.68h2.22v31.92h-2.22zM373.32 676.28h2.22v12.32h-2.22zM379.93 681.04h2.22v7.56h-2.22zM384.33 675.16h2.22v13.44h-2.22zM388.74 688.04h2.22v0.56h-2.22zM397.55 639.88h2.22v48.72h-2.22zM399.75 610.48h2.22v78.12h-2.22zM401.96 620.28h2.22v68.32h-2.22zM404.16 667.60h2.22v21.00h-2.22zM406.36 681.04h2.22v7.56h-2.22zM408.57 687.20h2.22v1.40h-2.22zM415.18 682.16h2.22v6.44h-2.22zM421.78 677.12h2.22v11.48h-2.22zM423.99 673.48h2.22v15.12h-2.22zM426.19 559.24h2.22v129.36h-2.22zM428.39 622.80h2.22v65.80h-2.22zM430.60 685.24h2.22v3.36h-2.22zM443.81 681.04h2.22v7.56h-2.22zM446.02 677.12h2.22v11.48h-2.22zM448.22 675.72h2.22v12.88h-2.22zM450.42 675.44h2.22v13.16h-2.22zM454.83 672.92h2.22v15.68h-2.22zM463.64 686.92h2.22v1.68h-2.22zM465.84 685.80h2.22v2.80h-2.22zM468.05 684.96h2.22v3.64h-2.22zM472.45 673.76h2.22v14.84h-2.22zM476.86 677.68h2.22v10.92h-2.22zM479.06 665.08h2.22v23.52h-2.22zM481.27 665.08h2.22v23.52h-2.22zM485.67 686.36h2.22v2.24h-2.22zM492.28 670.68h2.22v17.92h-2.22zM501.09 679.92h2.22v8.68h-2.22zM503.30 664.80h2.22v23.80h-2.22zM512.11 670.68h2.22v17.92h-2.22zM527.53 661.16h2.22v27.44h-2.22zM529.73 645.20h2.22v43.40h-2.22zM534.14 669.56h2.22v19.04h-2.22zM536.34 670.96h2.22v17.64h-2.22zM542.95 658.64h2.22v29.96h-2.22zM545.15 680.20h2.22v8.40h-2.22zM547.36 660.60h2.22v28.00h-2.22zM551.76 677.12h2.22v11.48h-2.22zM553.96 670.68h2.22v17.92h-2.22zM556.17 673.48h2.22v15.12h-2.22zM558.37 592.00h2.22v96.60h-2.22zM560.57 672.36h2.22v16.24h-2.22zM567.18 674.04h2.22v14.56h-2.22zM569.39 688.04h2.22v0.56h-2.22zM575.99 663.40h2.22v25.20h-2.22zM598.02 686.36h2.22v2.24h-2.22zM604.63 647.44h2.22v41.16h-2.22zM611.24 647.44h2.22v41.16h-2.22zM613.45 678.52h2.22v10.08h-2.22zM620.05 683.28h2.22v5.32h-2.22zM624.46 674.88h2.22v13.72h-2.22zM631.07 679.08h2.22v9.52h-2.22zM633.27 683.28h2.22v5.32h-2.22zM635.48 645.76h2.22v42.84h-2.22zM637.68 656.96h2.22v31.64h-2.22zM646.49 673.20h2.22v15.40h-2.22zM653.10 687.76h2.22v0.84h-2.22zM661.91 672.36h2.22v16.24h-2.22zM666.32 668.72h2.22v19.88h-2.22zM668.52 655.56h2.22v33.04h-2.22zM672.93 651.08h2.22v37.52h-2.22zM675.13 662.84h2.22v25.76h-2.22zM679.54 649.68h2.22v38.92h-2.22zM681.74 672.64h2.22v15.96h-2.22zM686.14 665.36h2.22v23.24h-2.22zM690.55 631.48h2.22v57.12h-2.22zM692.75 677.96h2.22v10.64h-2.22zM694.96 641.00h2.22v47.60h-2.22zM697.16 671.80h2.22v16.80h-2.22zM699.36 683.28h2.22v5.32h-2.22zM703.77 684.12h2.22v4.48h-2.22zM708.17 656.40h2.22v32.20h-2.22zM710.38 631.76h2.22v56.84h-2.22zM712.58 632.04h2.22v56.56h-2.22zM714.78 630.36h2.22v58.24h-2.22zM716.99 683.28h2.22v5.32h-2.22zM719.19 674.32h2.22v14.28h-2.22zM721.39 676.00h2.22v12.60h-2.22zM723.60 688.04h2.22v0.56h-2.22zM728.00 654.44h2.22v34.16h-2.22zM730.20 668.72h2.22v19.88h-2.22zM734.61 648.00h2.22v40.60h-2.22zM741.22 682.44h2.22v6.16h-2.22zM743.42 587.80h2.22v100.80h-2.22zM745.63 641.84h2.22v46.76h-2.22zM747.83 676.00h2.22v12.60h-2.22zM750.03 668.72h2.22v19.88h-2.22zM752.23 661.44h2.22v27.16h-2.22zM754.44 662.28h2.22v26.32h-2.22zM756.64 675.44h2.22v13.16h-2.22zM763.25 679.08h2.22v9.52h-2.22zM776.47 644.08h2.22v44.52h-2.22zM778.67 661.44h2.22v27.16h-2.22zM780.87 655.00h2.22v33.60h-2.22zM783.08 651.64h2.22v36.96h-2.22zM785.28 687.20h2.22v1.40h-2.22zM789.69 647.16h2.22v41.44h-2.22zM791.89 661.16h2.22v27.44h-2.22zM796.29 673.76h2.22v14.84h-2.22zM798.50 671.80h2.22v16.80h-2.22zM800.70 680.20h2.22v8.40h-2.22zM809.51 676.84h2.22v11.76h-2.22zM811.72 672.64h2.22v15.96h-2.22zM813.92 665.92h2.22v22.68h-2.22zM818.32 650.80h2.22v37.80h-2.22zM820.53 635.40h2.22v53.20h-2.22zM827.14 672.64h2.22v15.96h-2.22zM829.34 678.52h2.22v10.08h-2.22zM831.54 683.28h2.22v5.32h-2.22zM833.75 671.52h2.22v17.08h-2.22zM838.15 663.68h2.22v24.92h-2.22zM840.35 666.76h2.22v21.84h-2.22zM842.56 667.32h2.22v21.28h-2.22zM844.76 681.60h2.22v7.00h-2.22zM853.57 670.68h2.22v17.92h-2.22zM855.78 679.92h2.22v8.68h-2.22zM857.98 660.32h2.22v28.28h-2.22zM860.18 655.56h2.22v33.04h-2.22zM862.38 677.96h2.22v10.64h-2.22zM864.59 646.04h2.22v42.56h-2.22zM866.79 648.28h2.22v40.32h-2.22zM868.99 648.00h2.22v40.60h-2.22zM871.20 606.84h2.22v81.76h-2.22zM873.40 606.84h2.22v81.76h-2.22zM877.81 618.60h2.22v70.00h-2.22zM880.01 662.84h2.22v25.76h-2.22zM882.21 655.56h2.22v33.04h-2.22zM884.41 656.96h2.22v31.64h-2.22zM886.62 680.76h2.22v7.84h-2.22zM888.82 664.52h2.22v24.08h-2.22zM893.23 674.60h2.22v14.00h-2.22zM897.63 656.40h2.22v32.20h-2.22zM899.84 646.04h2.22v42.56h-2.22zM902.04 615.52h2.22v73.08h-2.22zM904.24 659.76h2.22v28.84h-2.22zM906.44 665.36h2.22v23.24h-2.22zM910.85 680.20h2.22v8.40h-2.22zM915.26 679.64h2.22v8.96h-2.22zM919.66 667.88h2.22v20.72h-2.22zM921.87 659.76h2.22v28.84h-2.22zM924.07 655.56h2.22v33.04h-2.22zM928.47 679.08h2.22v9.52h-2.22zM930.68 684.12h2.22v4.48h-2.22zM932.88 667.04h2.22v21.56h-2.22zM935.08 668.72h2.22v19.88h-2.22zM937.29 678.52h2.22v10.08h-2.22zM939.49 680.20h2.22v8.40h-2.22zM941.69 678.80h2.22v9.80h-2.22zM943.90 658.64h2.22v29.96h-2.22zM948.30 626.44h2.22v62.16h-2.22zM959.32 664.52h2.22v24.08h-2.22zM961.52 676.00h2.22v12.60h-2.22zM963.72 673.48h2.22v15.12h-2.22zM965.93 627.56h2.22v61.04h-2.22zM968.13 650.80h2.22v37.80h-2.22zM970.33 684.12h2.22v4.48h-2.22zM974.74 658.92h2.22v29.68h-2.22zM979.14 687.20h2.22v1.40h-2.22zM985.75 641.56h2.22v47.04h-2.22zM987.96 671.80h2.22v16.80h-2.22zM990.16 662.28h2.22v26.32h-2.22zM992.36 672.64h2.22v15.96h-2.22zM994.56 677.12h2.22v11.48h-2.22zM996.77 643.80h2.22v44.80h-2.22zM998.97 680.76h2.22v7.84h-2.22zM1001.17 666.76h2.22v21.84h-2.22zM1003.38 612.16h2.22v76.44h-2.22zM1005.58 681.60h2.22v7.00h-2.22zM1009.99 660.88h2.22v27.72h-2.22zM1012.19 675.16h2.22v13.44h-2.22zM1014.39 660.88h2.22v27.72h-2.22zM1016.59 667.04h2.22v21.56h-2.22zM1018.80 664.24h2.22v24.36h-2.22zM1021.00 666.76h2.22v21.84h-2.22zM1023.20 664.24h2.22v24.36h-2.22zM1025.41 670.40h2.22v18.20h-2.22zM1027.61 634.56h2.22v54.04h-2.22zM1032.02 684.68h2.22v3.92h-2.22zM1034.22 657.24h2.22v31.36h-2.22zM1038.62 679.92h2.22v8.68h-2.22zM1040.83 655.00h2.22v33.60h-2.22zM1043.03 661.72h2.22v26.88h-2.22zM1045.23 673.48h2.22v15.12h-2.22zM1047.44 666.76h2.22v21.84h-2.22zM1051.84 666.48h2.22v22.12h-2.22zM1054.05 637.92h2.22v50.68h-2.22zM1056.25 646.88h2.22v41.72h-2.22zM1058.45 669.56h2.22v19.04h-2.22zM1060.65 592.56h2.22v96.04h-2.22zM1062.86 614.40h2.22v74.20h-2.22zM1065.06 647.72h2.22v40.88h-2.22zM1067.26 675.72h2.22v12.88h-2.22zM1071.67 658.64h2.22v29.96h-2.22zM1073.87 676.84h2.22v11.76h-2.22zM1076.08 663.12h2.22v25.48h-2.22zM1078.28 672.92h2.22v15.68h-2.22zM1080.48 651.08h2.22v37.52h-2.22zM1082.68 650.52h2.22v38.08h-2.22zM1084.89 651.36h2.22v37.24h-2.22zM1087.09 640.44h2.22v48.16h-2.22zM1089.29 638.76h2.22v49.84h-2.22zM1091.50 676.84h2.22v11.76h-2.22zM1093.70 676.00h2.22v12.60h-2.22zM1095.90 682.72h2.22v5.88h-2.22zM1098.11 676.00h2.22v12.60h-2.22zM1100.31 651.36h2.22v37.24h-2.22zM1102.51 648.56h2.22v40.04h-2.22zM1106.92 624.76h2.22v63.84h-2.22zM1109.12 599.00h2.22v89.60h-2.22zM1113.53 581.36h2.22v107.24h-2.22zM1115.73 653.32h2.22v35.28h-2.22zM1117.93 651.92h2.22v36.68h-2.22zM1120.14 666.48h2.22v22.12h-2.22zM1122.34 659.20h2.22v29.40h-2.22zM1124.54 661.72h2.22v26.88h-2.22zM1126.74 669.56h2.22v19.04h-2.22zM1128.95 649.40h2.22v39.20h-2.22zM1135.56 667.32h2.22v21.28h-2.22zM1139.96 643.80h2.22v44.80h-2.22zM1142.17 619.44h2.22v69.16h-2.22zM1146.57 687.76h2.22v0.84h-2.22zM1148.77 664.52h2.22v24.08h-2.22zM1150.98 684.12h2.22v4.48h-2.22zM1153.18 660.60h2.22v28.00h-2.22z"/>
<path fill="#08306b" d="M148.72 688.60h2.0v24.08h-2.0zM175.16 688.60h2.0v27.44h-2.0zM201.59 688.60h2.0v24.36h-2.0zM228.03 688.60h2.0v17.36h-2.0zM254.47 688.60h2.0v23.24h-2.0zM280.90 688.60h2.0v38.08h-2.0zM307.34 688.60h2.0v1.12h-2.0zM333.77 688.60h2.0v20.16h-2.0zM360.21 688.60h2.0v48.16h-2.0zM386.65 688.60h2.0v9.80h-2.0zM413.08 688.60h2.0v5.04h-2.0zM439.52 688.60h2.0v7.00h-2.0zM518.83 688.60h2.0v26.32h-2.0zM651.01 688.60h2.0v9.24h-2.0zM677.44 688.60h2.0v4.48h-2.0z"/>
<path fill="#860000" d="M465.95 685.80h2.0v2.80h-2.0zM492.39 670.68h2.0v17.92h-2.0zM545.26 680.20h2.0v8.40h-2.0zM598.13 686.36h2.0v2.24h-2.0zM624.57 674.88h2.0v13.72h-2.0zM703.88 684.12h2.0v4.48h-2.0zM730.31 668.72h2.0v19.88h-2.0zM756.75 675.44h2.0v13.16h-2.0zM783.19 651.64h2.0v36.96h-2.0zM809.62 676.84h2.0v11.76h-2.0zM862.49 677.96h2.0v10.64h-2.0zM888.93 664.52h2.0v24.08h-2.0zM915.37 679.64h2.0v8.96h-2.0zM941.80 678.80h2.0v9.80h-2.0zM968.24 650.80h2.0v37.80h-2.0zM994.67 677.12h2.0v11.48h-2.0zM1021.11 666.76h2.0v21.84h-2.0zM1047.55 666.76h2.0v21.84h-2.0zM1073.98 676.84h2.0v11.76h-2.0zM1100.42 651.36h2.0v37.24h-2.0zM1126.85 669.56h2.0v19.04h-2.0zM1153.29 660.60h2.0v28.00h-2.0z"/>
<line x1="120.0" x2="1177.3" y1="688.6" y2="688.6" stroke="#000" stroke-width="2.1"/>
<rect x="120.0" y="520.0" width="1057.3" height="337.20000000000005" fill="none" stroke="#000" stroke-width="1.8"/>
<line x1="108.3" x2="120.0" y1="520.00" y2="520.00" stroke="#1a1a1a" stroke-width="0.95"/>
<text x="105.4" y="531.55" text-anchor="end" font-size="32.3">6</text>
<line x1="108.3" x2="120.0" y1="576.20" y2="576.20" stroke="#1a1a1a" stroke-width="0.95"/>
<text x="105.4" y="587.75" text-anchor="end" font-size="32.3">4</text>
<line x1="108.3" x2="120.0" y1="632.40" y2="632.40" stroke="#1a1a1a" stroke-width="0.95"/>
<text x="105.4" y="643.95" text-anchor="end" font-size="32.3">2</text>
<line x1="108.3" x2="120.0" y1="688.60" y2="688.60" stroke="#1a1a1a" stroke-width="0.95"/>
<text x="105.4" y="700.15" text-anchor="end" font-size="32.3">0</text>
<line x1="108.3" x2="120.0" y1="744.80" y2="744.80" stroke="#1a1a1a" stroke-width="0.95"/>
<text x="105.4" y="756.35" text-anchor="end" font-size="32.3">-2</text>
<line x1="108.3" x2="120.0" y1="801.00" y2="801.00" stroke="#1a1a1a" stroke-width="0.95"/>
<text x="105.4" y="812.55" text-anchor="end" font-size="32.3">-4</text>
<line x1="108.3" x2="120.0" y1="857.20" y2="857.20" stroke="#1a1a1a" stroke-width="0.95"/>
<text x="105.4" y="868.75" text-anchor="end" font-size="32.3">-6</text>
<line x1="133.20" x2="133.20" y1="857.2" y2="865.7" stroke="#1a1a1a" stroke-width="0.95"/>
<line x1="159.64" x2="159.64" y1="857.2" y2="865.7" stroke="#1a1a1a" stroke-width="0.95"/>
<line x1="186.07" x2="186.07" y1="857.2" y2="865.7" stroke="#1a1a1a" stroke-width="0.95"/>
<line x1="212.51" x2="212.51" y1="857.2" y2="865.7" stroke="#1a1a1a" stroke-width="0.95"/>
<line x1="238.94" x2="238.94" y1="857.2" y2="865.7" stroke="#1a1a1a" stroke-width="0.95"/>
<line x1="265.38" x2="265.38" y1="857.2" y2="865.7" stroke="#1a1a1a" stroke-width="0.95"/>
<line x1="291.82" x2="291.82" y1="857.2" y2="865.7" stroke="#1a1a1a" stroke-width="0.95"/>
<line x1="318.25" x2="318.25" y1="857.2" y2="865.7" stroke="#1a1a1a" stroke-width="0.95"/>
<line x1="344.69" x2="344.69" y1="857.2" y2="865.7" stroke="#1a1a1a" stroke-width="0.95"/>
<line x1="371.12" x2="371.12" y1="857.2" y2="865.7" stroke="#1a1a1a" stroke-width="0.95"/>
<line x1="397.56" x2="397.56" y1="857.2" y2="865.7" stroke="#1a1a1a" stroke-width="0.95"/>
<line x1="424.00" x2="424.00" y1="857.2" y2="865.7" stroke="#1a1a1a" stroke-width="0.95"/>
<line x1="450.43" x2="450.43" y1="857.2" y2="865.7" stroke="#1a1a1a" stroke-width="0.95"/>
<line x1="476.87" x2="476.87" y1="857.2" y2="865.7" stroke="#1a1a1a" stroke-width="0.95"/>
<line x1="503.30" x2="503.30" y1="857.2" y2="865.7" stroke="#1a1a1a" stroke-width="0.95"/>
<line x1="529.74" x2="529.74" y1="857.2" y2="865.7" stroke="#1a1a1a" stroke-width="0.95"/>
<line x1="556.18" x2="556.18" y1="857.2" y2="865.7" stroke="#1a1a1a" stroke-width="0.95"/>
<line x1="582.61" x2="582.61" y1="857.2" y2="865.7" stroke="#1a1a1a" stroke-width="0.95"/>
<line x1="609.05" x2="609.05" y1="857.2" y2="865.7" stroke="#1a1a1a" stroke-width="0.95"/>
<line x1="635.48" x2="635.48" y1="857.2" y2="865.7" stroke="#1a1a1a" stroke-width="0.95"/>
<line x1="661.92" x2="661.92" y1="857.2" y2="865.7" stroke="#1a1a1a" stroke-width="0.95"/>
<line x1="688.36" x2="688.36" y1="857.2" y2="865.7" stroke="#1a1a1a" stroke-width="0.95"/>
<line x1="714.79" x2="714.79" y1="857.2" y2="865.7" stroke="#1a1a1a" stroke-width="0.95"/>
<line x1="741.23" x2="741.23" y1="857.2" y2="865.7" stroke="#1a1a1a" stroke-width="0.95"/>
<line x1="767.66" x2="767.66" y1="857.2" y2="865.7" stroke="#1a1a1a" stroke-width="0.95"/>
<line x1="794.10" x2="794.10" y1="857.2" y2="865.7" stroke="#1a1a1a" stroke-width="0.95"/>
<line x1="820.54" x2="820.54" y1="857.2" y2="865.7" stroke="#1a1a1a" stroke-width="0.95"/>
<line x1="846.97" x2="846.97" y1="857.2" y2="865.7" stroke="#1a1a1a" stroke-width="0.95"/>
<line x1="873.41" x2="873.41" y1="857.2" y2="865.7" stroke="#1a1a1a" stroke-width="0.95"/>
<line x1="899.84" x2="899.84" y1="857.2" y2="865.7" stroke="#1a1a1a" stroke-width="0.95"/>
<line x1="926.28" x2="926.28" y1="857.2" y2="865.7" stroke="#1a1a1a" stroke-width="0.95"/>
<line x1="952.72" x2="952.72" y1="857.2" y2="865.7" stroke="#1a1a1a" stroke-width="0.95"/>
<line x1="979.15" x2="979.15" y1="857.2" y2="865.7" stroke="#1a1a1a" stroke-width="0.95"/>
<line x1="1005.59" x2="1005.59" y1="857.2" y2="865.7" stroke="#1a1a1a" stroke-width="0.95"/>
<line x1="1032.02" x2="1032.02" y1="857.2" y2="865.7" stroke="#1a1a1a" stroke-width="0.95"/>
<line x1="1058.46" x2="1058.46" y1="857.2" y2="865.7" stroke="#1a1a1a" stroke-width="0.95"/>
<line x1="1084.90" x2="1084.90" y1="857.2" y2="865.7" stroke="#1a1a1a" stroke-width="0.95"/>
<line x1="1111.33" x2="1111.33" y1="857.2" y2="865.7" stroke="#1a1a1a" stroke-width="0.95"/>
<line x1="1137.77" x2="1137.77" y1="857.2" y2="865.7" stroke="#1a1a1a" stroke-width="0.95"/>
<line x1="1164.20" x2="1164.20" y1="857.2" y2="865.7" stroke="#1a1a1a" stroke-width="0.95"/>
<text x="173.35" y="897.5" text-anchor="middle" font-size="32.2">1980</text>
<text x="305.53" y="897.5" text-anchor="middle" font-size="32.2">1985</text>
<text x="437.71" y="897.5" text-anchor="middle" font-size="32.2">1990</text>
<text x="569.89" y="897.5" text-anchor="middle" font-size="32.2">1995</text>
<text x="702.07" y="897.5" text-anchor="middle" font-size="32.2">2000</text>
<text x="834.25" y="897.5" text-anchor="middle" font-size="32.2">2005</text>
<text x="966.43" y="897.5" text-anchor="middle" font-size="32.2">2010</text>
<text x="1098.61" y="897.5" text-anchor="middle" font-size="32.2">2015</text>
<text x="14.2" y="681.1" font-size="21.6">O</text>
<text x="32.5" y="700.0" font-size="32.3">C</text>
<g><path d="M17.2 931.90 C38 929.30 57 926.90 65.6 916.00 M17.2 933.60 C38 931.30 57 929.40 65.6 920.40 M17.2 935.30 C38 933.30 57 931.90 65.6 924.80 M17.2 937.00 C38 935.30 57 934.40 65.6 929.20 M17.2 938.70 C38 937.30 57 936.90 65.6 933.60 M17.2 940.60 L37.9 940.06 M17.2 943.16 L37.9 942.68 M17.2 945.71 L37.9 945.29 M17.2 948.27 L37.9 947.91 M17.2 950.82 L37.9 950.52 M17.2 953.38 L37.9 953.14 M17.2 955.93 L37.9 955.75 M17.2 958.49 L37.9 958.37 M17.2 961.04 L37.9 960.98 M17.2 963.60 L37.9 963.60" fill="none" stroke="#9b9b9b" stroke-width="0.7"/>
<path d="M86.3 916.50 C94.3 928.50 104.3 936.00 115.6 939.00 M86.3 920.08 C94.3 931.15 104.3 938.15 115.6 940.92 M86.3 923.65 C94.3 933.81 104.3 940.31 115.6 942.85 M86.3 927.23 C94.3 936.46 104.3 942.46 115.6 944.77 M86.3 930.81 C94.3 939.12 104.3 944.62 115.6 946.69 M86.3 934.38 C94.3 941.77 104.3 946.77 115.6 948.62 M86.3 937.96 C94.3 944.42 104.3 948.92 115.6 950.54 M86.3 941.54 C94.3 947.08 104.3 951.08 115.6 952.46 M86.3 945.12 C94.3 949.73 104.3 953.23 115.6 954.38 M86.3 948.69 C94.3 952.38 104.3 955.38 115.6 956.31 M86.3 952.27 C94.3 955.04 104.3 957.54 115.6 958.23 M86.3 955.85 C94.3 957.69 104.3 959.69 115.6 960.15 M86.3 959.42 C94.3 960.35 104.3 961.85 115.6 962.08 M86.3 963.00 C94.3 963.00 104.3 964.00 115.6 964.00" fill="none" stroke="#9b9b9b" stroke-width="0.7"/>
<rect x="37.9" y="935.9" width="42.1" height="27.9" fill="#24459c"/>
<polygon points="59.00,938.95 59.38,939.97 60.47,940.02 59.62,940.70 59.91,941.75 59.00,941.15 58.09,941.75 58.38,940.70 57.53,940.02 58.62,939.97" fill="#f4d91c"/>
<polygon points="63.65,940.20 64.03,941.22 65.12,941.27 64.27,941.95 64.56,943.00 63.65,942.40 62.74,943.00 63.03,941.95 62.18,941.27 63.27,941.22" fill="#f4d91c"/>
<polygon points="67.05,943.60 67.44,944.62 68.53,944.67 67.67,945.35 67.97,946.40 67.05,945.80 66.14,946.40 66.43,945.35 65.58,944.67 66.67,944.62" fill="#f4d91c"/>
<polygon points="68.30,948.25 68.68,949.27 69.77,949.32 68.92,950.00 69.21,951.05 68.30,950.45 67.39,951.05 67.68,950.00 66.83,949.32 67.92,949.27" fill="#f4d91c"/>
<polygon points="67.05,952.90 67.44,953.92 68.53,953.97 67.67,954.65 67.97,955.70 67.05,955.10 66.14,955.70 66.43,954.65 65.58,953.97 66.67,953.92" fill="#f4d91c"/>
<polygon points="63.65,956.30 64.03,957.33 65.12,957.38 64.27,958.06 64.56,959.11 63.65,958.51 62.74,959.11 63.03,958.06 62.18,957.38 63.27,957.33" fill="#f4d91c"/>
<polygon points="59.00,957.55 59.38,958.57 60.47,958.62 59.62,959.30 59.91,960.35 59.00,959.75 58.09,960.35 58.38,959.30 57.53,958.62 58.62,958.57" fill="#f4d91c"/>
<polygon points="54.35,956.30 54.73,957.33 55.82,957.38 54.97,958.06 55.26,959.11 54.35,958.51 53.44,959.11 53.73,958.06 52.88,957.38 53.97,957.33" fill="#f4d91c"/>
<polygon points="50.95,952.90 51.33,953.92 52.42,953.97 51.57,954.65 51.86,955.70 50.95,955.10 50.03,955.70 50.33,954.65 49.47,953.97 50.56,953.92" fill="#f4d91c"/>
<polygon points="49.70,948.25 50.08,949.27 51.17,949.32 50.32,950.00 50.61,951.05 49.70,950.45 48.79,951.05 49.08,950.00 48.23,949.32 49.32,949.27" fill="#f4d91c"/>
<polygon points="50.95,943.60 51.33,944.62 52.42,944.67 51.57,945.35 51.86,946.40 50.95,945.80 50.03,946.40 50.33,945.35 49.47,944.67 50.56,944.62" fill="#f4d91c"/>
<polygon points="54.35,940.20 54.73,941.22 55.82,941.27 54.97,941.95 55.26,943.00 54.35,942.40 53.44,943.00 53.73,941.95 52.88,941.27 53.97,941.22" fill="#f4d91c"/>
<text x="39.8" y="971.3" font-size="5.8" fill="#444" textLength="25.2" lengthAdjust="spacingAndGlyphs">European</text>
<text x="39.8" y="978.1" font-size="5.8" fill="#444" textLength="32.0" lengthAdjust="spacingAndGlyphs">Commission</text>
<rect x="37.9" y="981.7" width="42.1" height="1.9" fill="#24459c"/></g>
<g><defs><linearGradient id="cg" x1="0.6" y1="0" x2="0.3" y2="1"><stop offset="0" stop-color="#86b7e3"/><stop offset="0.5" stop-color="#4a86c0"/><stop offset="1" stop-color="#2c6499"/></linearGradient></defs>
<path d="M375.66 938.45 A19.9 19.9 0 1 0 366.69 966.88 A17.7 17.7 0 1 1 375.66 938.45Z" fill="url(#cg)"/>
<text transform="scale(1.15,1)" x="309.39 321.65 334.17 345.48 352.00 362.35 366.43 375.13 385.39" y="961.2" font-size="22" fill="#21235c" stroke="#fff" stroke-width="0.3">opernicus</text>
<circle cx="410.6" cy="953.1" r="2.7" fill="#f7c81e"/>
<text x="386.6" y="968.9" font-size="6.4" fill="#56639b" textLength="66.8" lengthAdjust="spacingAndGlyphs">Europe's eyes on Earth</text></g>
<g><path d="M740.59 939.52 A20.8 20.8 0 1 0 730.86 968.60 A18.6 18.6 0 1 1 740.59 939.52Z" fill="#8b1740"/>
<path d="M709.3 950.6 C709.5 948 711.5 946.6 713.2 946.6 C713 943 715.5 940.8 718 941 C720 941 721.6 942 722.6 943.2 C723.5 940 726 938.2 729 938.2 C733 938.2 735.8 941.5 735.8 945.8 C737.8 945.6 739.6 947.2 739.7 949.9" fill="none" stroke="#8b1740" stroke-width="1.0" stroke-linecap="round"/>
<path d="M726.9 945.6 a1.8 1.8 0 0 1 3.6 0 V953.6 a3.4 3.4 0 1 1 -3.6 0 Z" fill="#fff" stroke="#8b1740" stroke-width="0.9"/>
<circle cx="728.7" cy="956.5" r="1.9" fill="#8b1740"/>
<line x1="728.7" x2="728.7" y1="946.2" y2="956" stroke="#8b1740" stroke-width="0.9"/>
<text x="745.5" y="947.7" font-size="7.8" fill="#97264f" textLength="27.0" lengthAdjust="spacingAndGlyphs">Climate</text>
<text x="745.5" y="955.9" font-size="7.8" fill="#97264f" textLength="56.3" lengthAdjust="spacingAndGlyphs">Change Service</text>
<text x="745.5" y="970.7" font-size="7.2" fill="#a3a3a3" textLength="69.6" lengthAdjust="spacingAndGlyphs">climate.copernicus.eu</text></g>
<g><text x="1061.2" y="939.7" font-size="4.3" fill="#4b93cc" textLength="44.6" lengthAdjust="spacingAndGlyphs">IMPLEMENTED BY</text>
<circle cx="1071.1" cy="953.6" r="10.3" fill="#0f6db3"/><circle cx="1079.7" cy="953.6" r="10.3" fill="#0f6db3"/>
<circle cx="1071.0" cy="953.6" r="3.9" fill="#fff"/><circle cx="1080.6" cy="953.6" r="3.9" fill="#fff"/>
<rect x="1082" y="951.2" width="8.5" height="5.0" fill="#fff"/>
<rect x="1060.5" y="951.4" width="9" height="1.0" fill="#fff"/><rect x="1060.5" y="954.9" width="9" height="1.0" fill="#fff"/>
<text x="1092.6" y="962.1" font-size="23.4" font-weight="bold" fill="#0f6db3" textLength="90.3" lengthAdjust="spacingAndGlyphs">ECMWF</text></g>
</svg>
</body></html>
